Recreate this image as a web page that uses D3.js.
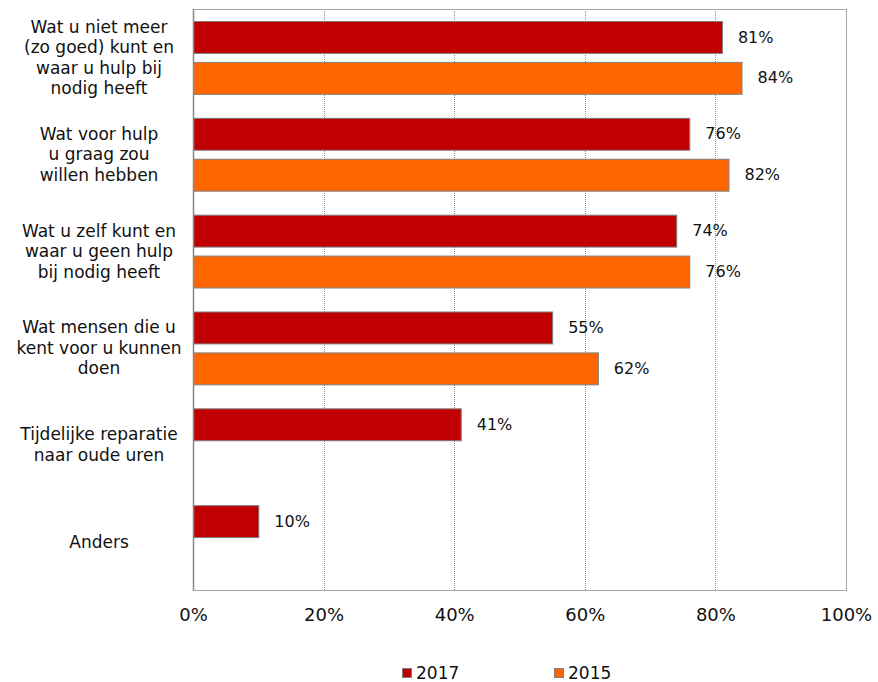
<!DOCTYPE html>
<html>
<head>
<meta charset="utf-8">
<script src="https://cdn.jsdelivr.net/npm/d3@7"></script>
<style>
  body { margin: 0; background: #fff; overflow: hidden; }
  svg { font-family: Verdana, "DejaVu Sans", sans-serif; display: block; }
</style>
</head>
<body>
<div id="chart"></div>
<script>
"use strict";

// Data
const categories = [
    ["Wat u niet meer", "(zo goed) kunt en", "waar u hulp bij", "nodig heeft"],
    ["Wat voor hulp", "u graag zou", "willen hebben"],
    ["Wat u zelf kunt en", "waar u geen hulp", "bij nodig heeft"],
    ["Wat mensen die u", "kent voor u kunnen", "doen"],
    ["Tijdelijke reparatie", "naar oude uren"],
    ["Anders"]
];
const series = ["2017", "2015"];
const values2017 = [81, 76, 74, 55, 41, 10];
const values2015 = [84, 82, 76, 62, null, null];
const xTicks = [0, 20, 40, 60, 80, 100];
const colors = { "2017": "#C00000", "2015": "#FF6600" };

const W = 878, H = 682;
const plot = { left: 193, top: 9, right: 846, bottom: 590 };

const svg = d3.select("#chart").append("svg")
    .attr("width", W)
    .attr("height", H);

const x = d3.scaleLinear().domain([0, 100]).range([plot.left, plot.right]);
const y0 = d3.scaleBand()
    .domain(d3.range(categories.length))
    .range([plot.top, plot.bottom])
    .padding(0);
const step = y0.step();
const y1 = d3.scaleBand()
    .domain(series)
    .range([step * 0.124, step * 0.876])
    .paddingInner(0.22);

// gridlines
svg.append("g")
    .selectAll("line")
    .data(xTicks.filter(t => t > 0 && t < 100))
    .join("line")
    .attr("x1", d => Math.round(x(d)) + 0.5)
    .attr("x2", d => Math.round(x(d)) + 0.5)
    .attr("y1", plot.top)
    .attr("y2", plot.bottom)
    .attr("stroke", "#8c8c8c")
    .attr("stroke-width", 1)
    .attr("stroke-dasharray", "1,1");

// frame
svg.append("rect")
    .attr("x", plot.left + 0.5)
    .attr("y", plot.top + 0.5)
    .attr("width", plot.right - plot.left)
    .attr("height", plot.bottom - plot.top)
    .attr("fill", "none")
    .attr("stroke", "#a6a6a6");

// bars
const rows = categories.map((c, i) => ({ i, "2017": values2017[i], "2015": values2015[i] }));
const groups = svg.append("g")
    .selectAll("g")
    .data(rows)
    .join("g")
    .attr("transform", d => `translate(0,${y0(d.i)})`);

const bars = groups.selectAll("g.bar")
    .data(d => series.filter(s => d[s] != null).map(s => ({ s, v: d[s] })))
    .join("g")
    .attr("class", "bar");

bars.append("rect")
    .attr("x", x(0) + 0.5)
    .attr("y", d => y1(d.s) + 0.5)
    .attr("width", d => x(d.v) - x(0))
    .attr("height", y1.bandwidth())
    .attr("fill", d => colors[d.s])
    .attr("stroke", "#7f7f7f")
    .attr("stroke-width", 1);

bars.append("text")
    .attr("x", d => x(d.v) + 16)
    .attr("y", d => y1(d.s) + y1.bandwidth() / 2)
    .attr("dy", "0.35em")
    .attr("font-size", 16)
    .attr("fill", "#111")
    .text(d => d.v + "%");

// left axis line
svg.append("line")
    .attr("x1", plot.left + 0.5)
    .attr("x2", plot.left + 0.5)
    .attr("y1", plot.top)
    .attr("y2", plot.bottom + 1)
    .attr("stroke", "#868686")
    .attr("stroke-width", 1.5);
svg.append("line")
    .attr("x1", plot.left)
    .attr("x2", plot.right + 1)
    .attr("y1", plot.bottom + 0.5)
    .attr("y2", plot.bottom + 0.5)
    .attr("stroke", "#a6a6a6");

// category labels
const lineH = 20.5;
const catLabels = svg.append("g")
    .selectAll("text")
    .data(categories)
    .join("text")
    .attr("text-anchor", "middle")
    .attr("font-size", 17)
    .attr("fill", "#111")
    .attr("transform", (d, i) => `translate(99,${y0(i) + step / 2 - (d.length - 1) * lineH / 2})`);
catLabels.selectAll("tspan")
    .data(d => d)
    .join("tspan")
    .attr("x", 0)
    .attr("y", (d, j) => j * lineH)
    .attr("dy", "0.35em")
    .text(d => d);

// x axis
const xAxis = svg.append("g")
    .attr("transform", `translate(0,${plot.bottom})`)
    .call(d3.axisBottom(x).tickValues(xTicks).tickFormat(d => d + "%").tickSize(0).tickPadding(18));
xAxis.select(".domain").remove();
xAxis.selectAll("text")
    .attr("font-family", "Verdana, 'DejaVu Sans', sans-serif")
    .attr("font-size", 18)
    .attr("fill", "#111");

// legend
const legendX = d3.scaleOrdinal().domain(series).range([402, 554]);
const legend = svg.append("g")
    .selectAll("g")
    .data(series)
    .join("g")
    .attr("transform", d => `translate(${legendX(d)},673)`);
legend.append("rect")
    .attr("x", 0.5)
    .attr("y", -4.5)
    .attr("width", 9)
    .attr("height", 9)
    .attr("fill", d => colors[d])
    .attr("stroke", "#7f7f7f");
legend.append("text")
    .attr("x", 14)
    .attr("y", 0)
    .attr("dy", "0.35em")
    .attr("font-size", 17)
    .attr("fill", "#111")
    .text(d => d);
</script>
</body>
</html>
